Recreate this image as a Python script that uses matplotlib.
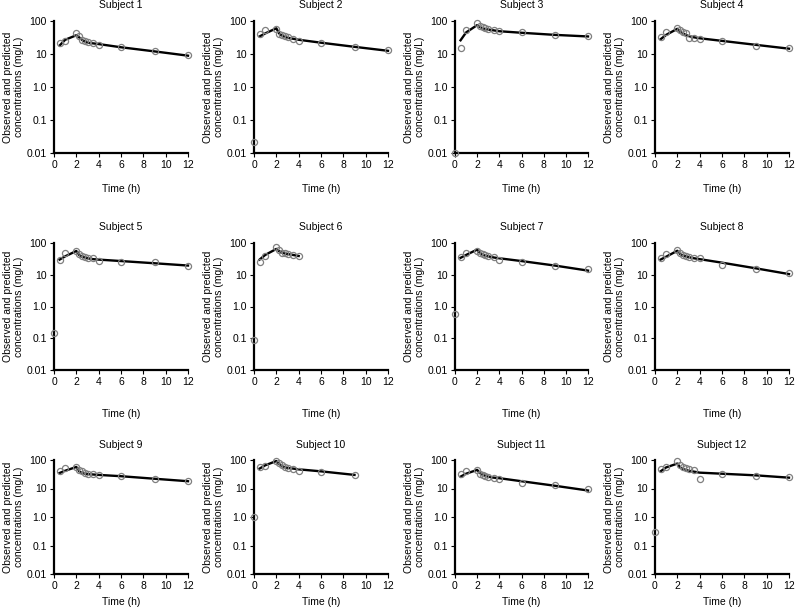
import matplotlib
matplotlib.use("Agg")
import matplotlib.pyplot as plt
import numpy as np

plt.rcParams['font.family'] = ['Liberation Sans', 'DejaVu Sans']

obs_times = [0, 0.5, 1, 2, 2.25, 2.5, 2.75, 3, 3.5, 4, 6, 9, 12]
pred_times = [0.5, 1, 2, 2.25, 2.5, 2.75, 3, 3.5, 4, 6, 9, 12]

# observed concentrations (mg/L); None = not shown
observed = {
    1:  [None, 21, 25, 42, 34, 27, 24, 23, 21, 19, 16, 12, 9.3],
    2:  [0.021, 40, 53, 58, 40, 37, 34, 32, 29, 25, 22, 16, 13],
    3:  [0.01, 14.8, 53, 88, 72, 65, 60, 57, 52, 50, 45, 37, 35],
    4:  [None, 32, 48, 60, 55, 47, 42, 30, 31, 28, 25, 18, 15],
    5:  [0.148, 30, 47, 54, 45, 38, 35, 33, 34, 28, 25, 25, 19],
    6:  [0.09, 26, 40, 75, 60, 50, 47, 45, 43, 40, None, None, None],
    7:  [0.56, 37, 50, 58, 50, 45, 43, 40, 37, 30, 26, 19, 15],
    8:  [None, 33, 45, 60, 50, 42, 38, 35, 33, 33, 21, 15, 11.5],
    9:  [None, 40, 52, 58, 45, 40, 35, 33, 32, 30, 27, 21, 19],
    10: [1.0, 57, 62, 90, 80, 65, 55, 52, 50, 42, 39, 30, None],
    11: [None, 31, 40, 45, 33, 30, 28, 26, 23, 22, 15, 13, 9.8],
    12: [0.29, 48, 55, 95, 65, 58, 52, 50, 45, 22, 33, 28, 25],
}

# model-predicted concentrations (mg/L)
predicted = {
    1:  [18, 27, 37, 32, 27, 24, 22, 21, 20, 16, 12, 8.9],
    2:  [34, 42, 60, 42, 36, 33, 31, 29, 27, 22, 16.5, 12.5],
    3:  [26, 45, 75, 65, 60, 57, 55, 52, 49, 44, 38, 34],
    4:  [28, 38, 58, 47, 42, 38, 35, 32, 30, 25, 19, 14.5],
    5:  [30, 38, 56, 42, 37, 35, 33, 31, 30, 27, 23, 19.5],
    6:  [30, 42, 65, 55, 50, 47, 45, 42, 39, None, None, None],
    7:  [34, 42, 62, 48, 42, 40, 38, 35, 33, 27, 19.5, 13.5],
    8:  [30, 37, 57, 45, 40, 38, 36, 33, 31, 24, 16, 10.5],
    9:  [35, 42, 57, 40, 35, 33, 32, 31, 30, 27, 22, 18],
    10: [50, 65, 92, 72, 60, 56, 53, 50, 47, 40, 30, None],
    11: [26, 33, 45, 35, 30, 28, 26, 24, 23, 18, 12.5, 8.5],
    12: [40, 55, 75, 55, 48, 45, 42, 39, 36, 33, 29, 24],
}

xticks = [0, 2, 4, 6, 8, 10, 12]
yticks = [0.01, 0.1, 1, 10, 100]
ytick_labels = ["0.01", "0.1", "1.0", "10", "100"]

W, H = 797, 608
fig = plt.figure(figsize=(W / 100, H / 100), dpi=100)

col_left = [54, 254, 455, 655]
col_right = [188, 388, 588, 789]
row_top = [21, 243, 460]
row_bot = [153, 370, 574]
xlabel_pad = [10, 16, 4.5]

for i in range(12):
    s = i + 1
    r, c = divmod(i, 4)
    l, rr = col_left[c], col_right[c]
    t, b = row_top[r], row_bot[r]
    ax = fig.add_axes([l / W, 1 - b / H, (rr - l) / W, (b - t) / H])
    ax.set_yscale('log')
    ax.set_xlim(0, 12)
    ax.set_ylim(0.01, 100)

    pt = [x for x, v in zip(pred_times, predicted[s]) if v is not None]
    pv = [v for v in predicted[s] if v is not None]
    ax.plot(pt, pv, color='black', lw=1.7, zorder=2, clip_on=False)

    ot = [x for x, v in zip(obs_times, observed[s]) if v is not None]
    ov = [v for v in observed[s] if v is not None]
    ax.plot(ot, ov, ls='none', marker='o', ms=4.4, mfc='none',
            mec='#7f7f7f', mew=0.9, zorder=3, clip_on=False)

    for sp in ['top', 'right']:
        ax.spines[sp].set_visible(False)
    for sp in ['left', 'bottom']:
        ax.spines[sp].set_linewidth(1.6)
    ax.set_xticks(xticks)
    ax.set_yticks(yticks)
    ax.set_yticklabels(ytick_labels)
    ax.yaxis.set_minor_locator(matplotlib.ticker.NullLocator())
    ax.tick_params(direction='out', length=3, width=0.8, labelsize=7.5, pad=2)
    ax.set_title(f"Subject {s}", fontsize=7.5, pad=9)
    ax.set_xlabel("Time (h)", fontsize=7.5, labelpad=xlabel_pad[r])
    ax.set_ylabel("Observed and predicted\nconcentrations (mg/L)", fontsize=7.5,
                  labelpad=2, linespacing=1.1)

fig.savefig("out.png", dpi=100)
